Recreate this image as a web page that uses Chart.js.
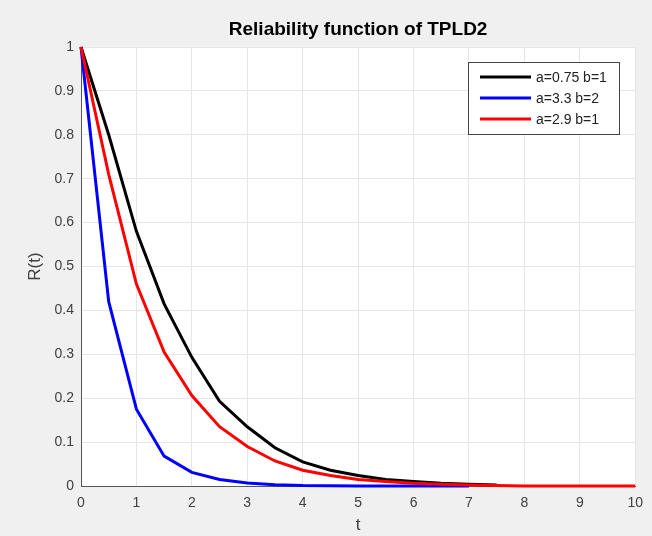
<!DOCTYPE html>
<html>
<head>
<meta charset="utf-8">
<script src="https://cdn.jsdelivr.net/npm/chart.js@4/dist/chart.umd.min.js"></script>
<style>
    html, body { margin: 0; padding: 0; background: #f0f0f0; }
    #wrap { width: 652px; height: 536px; }
</style>
</head>
<body>
<div id="wrap"><canvas id="relChart" width="652" height="536"></canvas></div>
<script>
// values, t in steps of 0.5
const tBlack = [0, 0.5, 1, 1.5, 2, 2.5, 3, 3.5, 4, 4.5, 5, 5.5, 6, 6.5, 7, 7.5];
const rBlack = [1, 0.8, 0.58, 0.415, 0.293, 0.193, 0.135, 0.087, 0.055, 0.036, 0.024, 0.015, 0.01, 0.006, 0.004, 0.002];

const tBlue = [0, 0.5, 1, 1.5, 2, 2.5, 3, 3.5, 4, 4.5, 5, 5.5, 6, 6.5, 7];
const rBlue = [1, 0.42, 0.175, 0.068, 0.031, 0.015, 0.007, 0.003, 0.001, 0.0005, 0, 0, 0, 0, 0];

const tRed = [0, 0.5, 1, 1.5, 2, 2.5, 3, 3.5, 4, 4.5, 5, 5.5, 6, 6.5, 7, 7.5, 8, 8.5, 9, 9.5, 10];
const rRed = [1, 0.71, 0.46, 0.305, 0.206, 0.135, 0.09, 0.057, 0.036, 0.024, 0.015, 0.01, 0.006, 0.004, 0.002, 0.001, 0, 0, 0, 0, 0];

const seriesLabels = ['a=0.75 b=1', 'a=3.3 b=2', 'a=2.9 b=1'];
const seriesColors = ['#000000', '#0000ff', '#ff0000'];
const chartTitle = 'Reliability function of TPLD2';

const FONT = '"Liberation Sans", Arial, sans-serif';

function toPoints(ts, rs) {
    return ts.map((t, i) => ({x: t, y: rs[i]}));
}

// white axes background + title centred over the axes (matlab style)
const whitePlot = {
    id: 'whitePlot',
    beforeDraw(chart) {
        const a = chart.chartArea;
        const ctx = chart.ctx;
        ctx.save();
        ctx.fillStyle = '#ffffff';
        ctx.fillRect(a.left, a.top, a.right - a.left, a.bottom - a.top);
        ctx.fillStyle = '#000000';
        ctx.font = 'bold 19px ' + FONT;
        ctx.textAlign = 'center';
        ctx.textBaseline = 'middle';
        ctx.fillText(chartTitle, (a.left + a.right) / 2, 30);
        ctx.restore();
    }
};

// legend box drawn inside the plot, top right
const boxLegend = {
    id: 'boxLegend',
    afterDatasetsDraw(chart) {
        const ctx = chart.ctx;
        const x = 468, y = 62, w = 151, h = 72;
        ctx.save();
        ctx.fillStyle = '#ffffff';
        ctx.fillRect(x, y, w, h);
        ctx.strokeStyle = '#444444';
        ctx.lineWidth = 1;
        ctx.strokeRect(x + 0.5, y + 0.5, w, h);
        ctx.font = '14px ' + FONT;
        ctx.textBaseline = 'middle';
        chart.data.datasets.forEach((ds, i) => {
            const ly = y + 15 + i * 21;
            ctx.strokeStyle = ds.borderColor;
            ctx.lineWidth = 3;
            ctx.beginPath();
            ctx.moveTo(x + 12, ly);
            ctx.lineTo(x + 63, ly);
            ctx.stroke();
            ctx.fillStyle = '#222222';
            ctx.fillText(ds.label, x + 68, ly + 1);
        });
        ctx.restore();
    }
};

document.addEventListener('DOMContentLoaded', function () {
    new Chart(document.getElementById('relChart').getContext('2d'), {
        type: 'line',
        data: {
            datasets: [
                {label: seriesLabels[0], data: toPoints(tBlack, rBlack), borderColor: seriesColors[0], order: 3, clip: 4},
                {label: seriesLabels[1], data: toPoints(tBlue, rBlue), borderColor: seriesColors[1], order: 2, clip: 4},
                {label: seriesLabels[2], data: toPoints(tRed, rRed), borderColor: seriesColors[2], order: 1, clip: 4}
            ]
        },
        options: {
            responsive: false,
            animation: false,
            elements: {
                point: {radius: 0},
                line: {borderWidth: 3, tension: 0, fill: false}
            },
            layout: {padding: {left: 21, right: 16, top: 47, bottom: 0}},
            plugins: {
                legend: {display: false},
                tooltip: {enabled: false},
                title: {display: false}
            },
            scales: {
                x: {
                    type: 'linear',
                    min: 0,
                    max: 10,
                    ticks: {stepSize: 1, color: '#404040', padding: 9,
                        font: {family: FONT, size: 14}},
                    grid: {color: '#e6e6e6', drawTicks: false},
                    border: {color: '#555555', width: 1},
                    title: {display: true, text: 't', color: '#404040', padding: {top: 4, bottom: 0},
                        font: {family: FONT, size: 17}},
                    afterFit(scale) { scale.height = 50; }
                },
                y: {
                    min: 0,
                    max: 1,
                    ticks: {stepSize: 0.1, color: '#404040', padding: 7,
                        font: {family: FONT, size: 14},
                        callback: v => String(Math.round(v * 10) / 10)},
                    grid: {color: '#e6e6e6', drawTicks: false},
                    border: {color: '#555555', width: 1},
                    title: {display: true, text: 'R(t)', color: '#404040',
                        font: {family: FONT, size: 17}},
                    afterFit(scale) { scale.width = 60; }
                }
            }
        },
        plugins: [whitePlot, boxLegend]
    });
});
</script>
</body>
</html>
